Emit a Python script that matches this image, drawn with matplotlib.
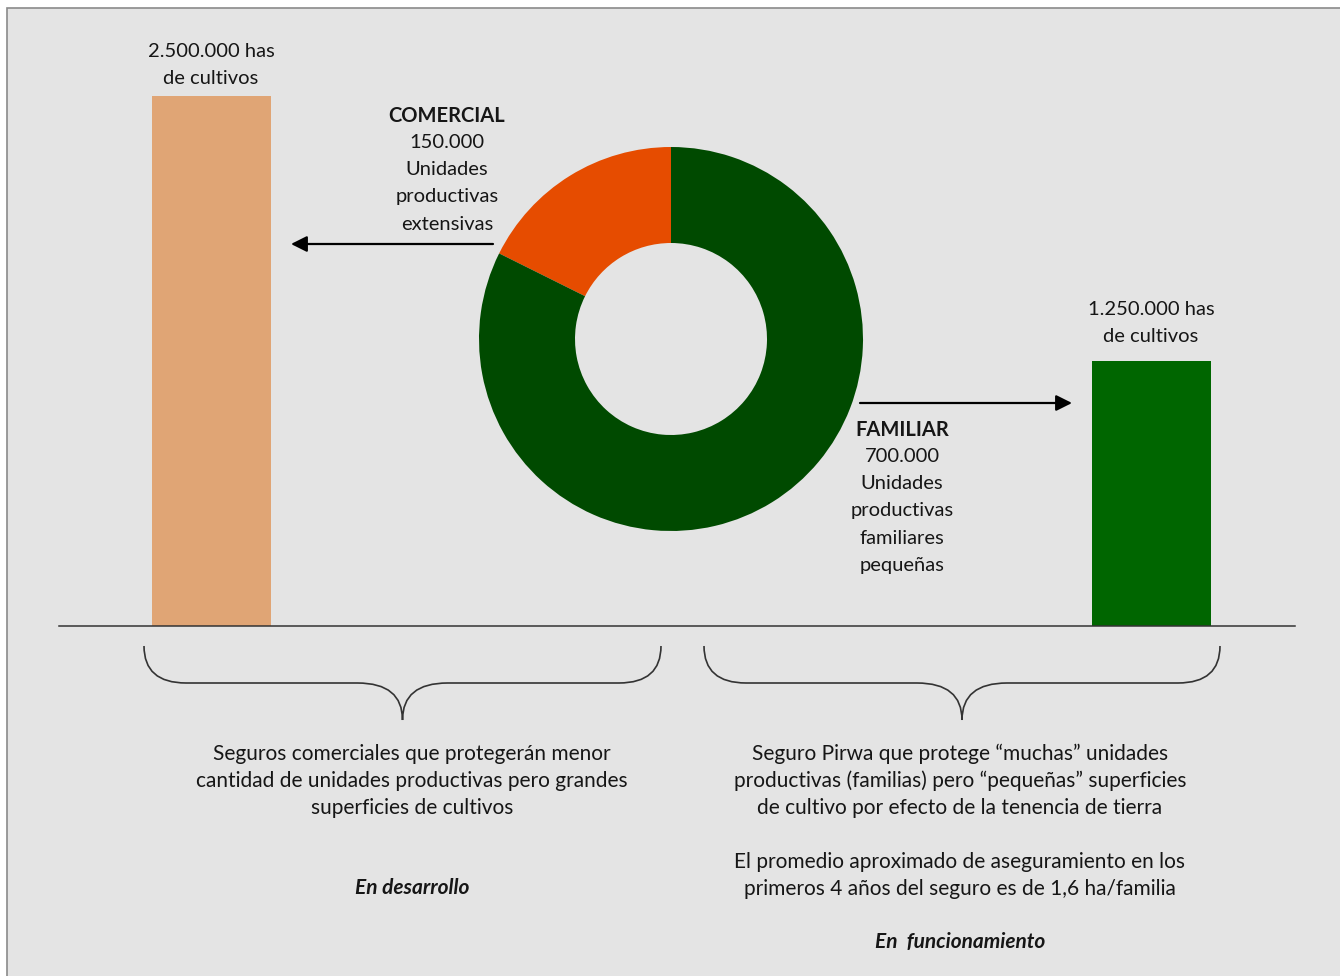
import matplotlib
matplotlib.use('Agg')
import matplotlib.pyplot as plt
from matplotlib.patches import Rectangle
from matplotlib.path import Path
from matplotlib.patches import PathPatch

plt.rcParams['font.family'] = ['Lato', 'DejaVu Sans']

# datos
bar_labels = ['2.500.000 has\nde cultivos', '1.250.000 has\nde cultivos']
bar_values = [2500000, 1250000]          # hectáreas
bar_colors = ['#E0A575', '#006600']

donut_labels = ['COMERCIAL', 'FAMILIAR']
donut_values = [150000, 700000]          # unidades productivas
donut_colors = ['#E64C00', '#004A00']

W, H = 1340, 976
fig = plt.figure(figsize=(W / 100, H / 100), dpi=100, facecolor='white')

def fx(px):
    return px / W

def fy(py):
    return 1 - py / H

# fondo gris con marco
fig.add_artist(Rectangle((fx(7), -0.02), 1.1, fy(8) + 0.02, transform=fig.transFigure,
                         facecolor='#E4E4E4', edgecolor='#8A8A8A', lw=1.2, zorder=-5))

# barras (eje con la línea base)
base_y, top_y = 626, 96
ax_bar = fig.add_axes([fx(59), fy(base_y), fx(1295) - fx(59), (base_y - top_y) / H])
ax_bar.set_xlim(59, 1295)
ax_bar.set_ylim(0, bar_values[0])
ax_bar.patch.set_alpha(0)
bar_x = [211.5, 1151.5]
ax_bar.bar(bar_x, bar_values, width=119, color=bar_colors, zorder=1)
for s in ['top', 'left', 'right']:
    ax_bar.spines[s].set_visible(False)
ax_bar.spines['bottom'].set_color('#333333')
ax_bar.spines['bottom'].set_linewidth(1.1)
ax_bar.spines['bottom'].set_zorder(3)
ax_bar.set_xticks([])
ax_bar.set_yticks([])

# dona
cx, cy, r = 671, 339, 192
ax_pie = fig.add_axes([fx(cx - r), fy(cy + r), 2 * r / W, 2 * r / H])
ax_pie.pie(donut_values, colors=donut_colors, startangle=90, counterclock=True,
           radius=1, wedgeprops=dict(width=0.5, edgecolor='none'))
ax_pie.set_xlim(-1, 1)
ax_pie.set_ylim(-1, 1)
ax_pie.axis('off')

# capa de anotaciones en píxeles
ax = fig.add_axes([0, 0, 1, 1])
ax.set_xlim(0, W)
ax.set_ylim(H, 0)
ax.axis('off')
ax.patch.set_alpha(0)

txt_color = '#161616'
lh = 27.2

def lines(x, y0, text, weight='normal', style='normal', fs=14.5):
    for i, t in enumerate(text.split('\n')):
        ax.text(x, y0 + 1.5 + i * lh, t, ha='center', va='center', fontsize=fs,
                color=txt_color, fontweight=weight, fontstyle=style)

# etiquetas de las barras
lines(211, 50, bar_labels[0])
lines(1151, 308, bar_labels[1])

# etiquetas de la dona
lines(447, 114, donut_labels[0], weight='bold')
lines(447, 141, f"{donut_values[0]:,}".replace(',', '.') + '\nUnidades\nproductivas\nextensivas')
lines(902, 428, donut_labels[1], weight='bold')
lines(902, 455, f"{donut_values[1]:,}".replace(',', '.') + '\nUnidades\nproductivas\nfamiliares\npequeñas')

# flechas
arrow = dict(arrowstyle='-|>', color='black', lw=1.6, mutation_scale=24, shrinkA=0, shrinkB=0)
ax.annotate('', xy=(291, 244), xytext=(493, 244), arrowprops=arrow)
ax.annotate('', xy=(1072, 403), xytext=(860, 403), arrowprops=arrow)

# llaves
def brace(x0, x1, top=646, mid=683, tip=720):
    xm = (x0 + x1) / 2
    verts = [(x0, top), (x0, mid), (x0 + 42, mid),
             (xm - 45, mid), (xm, mid), (xm, tip),
             (xm, mid), (xm + 45, mid),
             (x1 - 42, mid), (x1, mid), (x1, top)]
    codes = [Path.MOVETO, Path.CURVE3, Path.CURVE3,
             Path.LINETO, Path.CURVE3, Path.CURVE3,
             Path.CURVE3, Path.CURVE3,
             Path.LINETO, Path.CURVE3, Path.CURVE3]
    ax.add_patch(PathPatch(Path(verts, codes), facecolor='none', edgecolor='#333333', lw=1.2))

brace(144, 661)
brace(704, 1220)

# textos inferiores
lines(412, 752, 'Seguros comerciales que protegerán menor\n'
                'cantidad de unidades productivas pero grandes\n'
                'superficies de cultivos', fs=15)
lines(412, 887, 'En desarrollo', weight='bold', style='italic', fs=15)

lines(960, 752, 'Seguro Pirwa que protege “muchas” unidades\n'
                'productivas (familias) pero “pequeñas” superficies\n'
                'de cultivo por efecto de la tenencia de tierra', fs=15)
lines(960, 860, 'El promedio aproximado de aseguramiento en los\n'
                'primeros 4 años del seguro es de 1,6 ha/familia', fs=15)
lines(960, 941, 'En  funcionamiento', weight='bold', style='italic', fs=15)

fig.savefig('out.png', dpi=100, facecolor='white')
